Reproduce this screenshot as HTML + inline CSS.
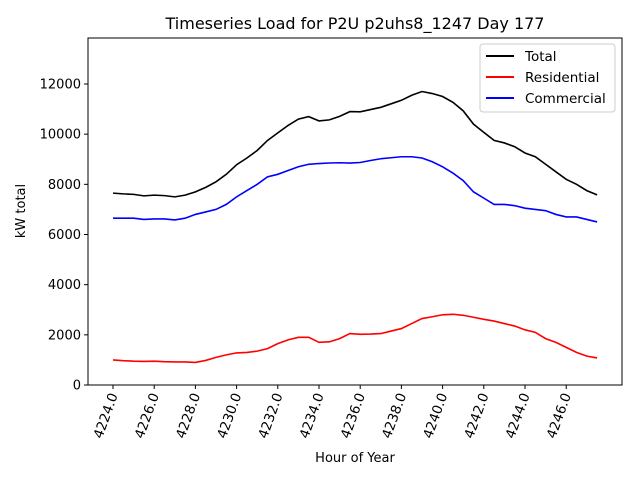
<!DOCTYPE html>
<html><head><meta charset="utf-8"><style>
body{margin:0;background:#fff}
svg text{font-family:"DejaVu Sans","Liberation Sans",sans-serif;fill:#000}
</style></head><body>
<svg id="chart" width="640" height="480" xmlns="http://www.w3.org/2000/svg">
<rect width="640" height="480" fill="#fff"/>
<text x="355" y="29" font-size="16" text-anchor="middle">Timeseries Load for P2U p2uhs8_1247  Day 177</text>
<g id="ticks"></g>
<g id="lines"></g>
<rect x="88" y="38" width="534" height="347" fill="none" stroke="#000" stroke-width="1"/>
<text x="355" y="462" font-size="13" text-anchor="middle">Hour of Year</text>
<text transform="translate(25,211) rotate(-90)" font-size="13" text-anchor="middle">kW total</text>
<g>
<rect x="480" y="44" width="135" height="68" rx="3" fill="#fff" fill-opacity="0.8" stroke="#ccc"/>
<line x1="486" y1="56" x2="514" y2="56" stroke="#000" stroke-width="2"/>
<text x="525" y="61" font-size="13.5">Total</text>
<line x1="486" y1="77" x2="514" y2="77" stroke="red" stroke-width="2"/>
<text x="525" y="82" font-size="13.5">Residential</text>
<line x1="486" y1="98" x2="514" y2="98" stroke="blue" stroke-width="2"/>
<text x="525" y="103" font-size="13.5">Commercial</text>
</g>
</svg>
<script>
const hourStart = 4224;
const hourStep = 0.5;
const commercial = [6650,6650,6650,6600,6620,6620,6580,6650,6800,6900,7000,7200,7500,7750,8000,8300,8400,8550,8700,8800,8830,8850,8860,8850,8870,8950,9020,9060,9100,9100,9050,8900,8700,8450,8150,7700,7450,7200,7200,7150,7050,7000,6950,6800,6700,6700,6600,6500];
const residential = [1000,970,950,940,950,930,920,920,900,980,1100,1200,1280,1300,1350,1450,1650,1800,1900,1900,1700,1720,1850,2050,2020,2030,2050,2150,2250,2450,2650,2720,2800,2820,2780,2700,2620,2550,2450,2350,2200,2100,1850,1700,1500,1300,1150,1080];
const xTicks = [4224,4226,4228,4230,4232,4234,4236,4238,4240,4242,4244,4246];
const yTicks = [0,2000,4000,6000,8000,10000,12000];
const total = commercial.map((c,i)=>c+residential[i]);
const X = h => 113 + (h-4224)*20.6;
const Y = v => 385 - v*(301/12000);
const NS = "http://www.w3.org/2000/svg";
const tg = document.getElementById('ticks');
xTicks.forEach(t=>{
  const l=document.createElementNS(NS,'line');
  l.setAttribute('x1',X(t));l.setAttribute('x2',X(t));l.setAttribute('y1',385);l.setAttribute('y2',389);l.setAttribute('stroke','#000');
  
  
  tg.appendChild(l);
  const tx=document.createElementNS(NS,'text');
  tx.setAttribute('transform',`translate(${X(t)+5},395) rotate(-70)`);
  tx.setAttribute('text-anchor','end');tx.setAttribute('font-size','13.5');
  tx.textContent=t.toFixed(1);
  
  
  tg.appendChild(tx);
});
yTicks.forEach(t=>{
  const l=document.createElementNS(NS,'line');
  l.setAttribute('x1',84);l.setAttribute('x2',88);l.setAttribute('y1',Y(t));l.setAttribute('y2',Y(t));l.setAttribute('stroke','#000');
  
  
  tg.appendChild(l);
  const tx=document.createElementNS(NS,'text');
  tx.setAttribute('x',81);tx.setAttribute('y',Y(t)+4.5);
  tx.setAttribute('text-anchor','end');tx.setAttribute('font-size','13');
  tx.textContent=t;
  
  
  tg.appendChild(tx);
});
const lg=document.getElementById('lines');
[[total,'#000','total-line'],[residential,'red','residential-line'],[commercial,'blue','commercial-line']].forEach(([s,c,n])=>{
  const p=document.createElementNS(NS,'polyline');
  p.setAttribute('points',s.map((v,i)=>X(hourStart+i*hourStep)+','+Y(v)).join(' '));
  p.setAttribute('fill','none');p.setAttribute('stroke',c);p.setAttribute('stroke-width','1.6');
  
  
  lg.appendChild(p);
});
</script>
</body></html>
